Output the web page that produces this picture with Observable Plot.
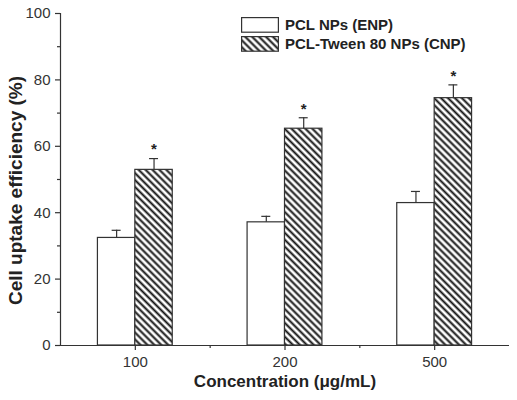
<!DOCTYPE html>
<html>
<head>
<meta charset="utf-8">
<script src="https://cdn.jsdelivr.net/npm/d3@7"></script>
<script src="https://cdn.jsdelivr.net/npm/@observablehq/plot@0.6"></script>
<style>
  html, body { margin: 0; padding: 0; background: #fff; }
  #wrap { position: relative; width: 517px; height: 400px; font-family: "Liberation Sans", Arial, sans-serif; }
  .leg { position: absolute; left: 241px; display: flex; align-items: center; font-weight: bold; font-size: 15px; color: #222; }
  .leg svg { margin-right: 6px; display: block; }
</style>
</head>
<body>
<div id="wrap"></div>
<script>
const concentrations = ["100", "200", "500"];
const seriesNames = ["PCL NPs (ENP)", "PCL-Tween 80 NPs (CNP)"];
const enpValues = [32.4, 37.1, 42.9];
const enpErrors = [2.3, 1.8, 3.5];
const cnpValues = [52.9, 65.3, 74.5];
const cnpErrors = [3.4, 3.3, 4.0];
const yTicks = [0, 20, 40, 60, 80, 100];
const yMinorTicks = [10, 30, 50, 70, 90];

const rows = [];
concentrations.forEach((c, i) => {
  rows.push({conc: c, pos: i + 1, series: seriesNames[0], value: enpValues[i], err: enpErrors[i], side: -1});
  rows.push({conc: c, pos: i + 1, series: seriesNames[1], value: cnpValues[i], err: cnpErrors[i], side: 1});
});
const bw = 0.25;
const x1 = d => d.side < 0 ? d.pos - bw : d.pos;
const x2 = d => d.side < 0 ? d.pos : d.pos + bw;
const xc = d => d.pos + d.side * bw / 2;
const fillOf = d => d.side < 0 ? "white" : "url(#hatch)";
const cnpRows = rows.filter(d => d.side > 0);
const xMajor = concentrations.map((c, i) => i + 1);
const xMinor = [1.5, 2.5];

const axisColor = "#333";
const chart = Plot.plot({
  width: 517,
  height: 400,
  marginLeft: 60,
  marginRight: 8,
  marginTop: 13,
  marginBottom: 55,
  style: {fontFamily: "Liberation Sans, Arial, sans-serif", background: "white", color: "#222"},
  x: {type: "linear", domain: [0.5, 3.5], axis: null},
  y: {type: "linear", domain: [0, 100], axis: null},
  marks: [
    Plot.rectY(rows, {x1, x2, y1: 0, y2: "value", fill: fillOf, stroke: axisColor, strokeWidth: 1.2}),
    Plot.ruleX(rows, {x: xc, y1: "value", y2: d => d.value + d.err, stroke: axisColor, strokeWidth: 1.2}),
    Plot.ruleY(rows, {y: d => d.value + d.err, x1: d => xc(d) - 0.03, x2: d => xc(d) + 0.03, stroke: axisColor, strokeWidth: 1.2}),
    Plot.text(cnpRows, {x: xc, y: d => d.value + d.err, text: () => "*", dy: -9, fontSize: 15, fontWeight: "bold", fill: "#222"}),
    Plot.ruleX([0.5], {y1: 0, y2: 100, stroke: axisColor, strokeWidth: 1.2}),
    Plot.axisY(yTicks, {tickSize: 5, tickPadding: 5, fontSize: 15, stroke: axisColor, strokeWidth: 1.2, fill: "#333", label: null, anchor: "left"}),
    Plot.axisY(yMinorTicks, {tickSize: 3, text: null, stroke: axisColor, strokeWidth: 1.2, label: null, anchor: "left"}),
    Plot.ruleY([0], {x1: 0.5, x2: 3.5, stroke: axisColor, strokeWidth: 1.2}),
    Plot.axisX(xMajor, {tickSize: 5, tickPadding: 6, fontSize: 15, tickFormat: v => concentrations[v - 1], stroke: axisColor, strokeWidth: 1.2, fill: "#333", label: null, anchor: "bottom"}),
    Plot.axisX(xMinor, {tickSize: 3, text: null, stroke: axisColor, strokeWidth: 1.2, label: null, anchor: "bottom"}),
    Plot.text(["Concentration (μg/mL)"], {frameAnchor: "bottom", dy: 36, fontSize: 17, fontWeight: "bold", fill: "#222", lineAnchor: "middle"}),
    Plot.text(["Cell uptake efficiency (%)"], {frameAnchor: "left", dx: -45, dy: 11, rotate: -90, textAnchor: "middle", lineAnchor: "middle", fontSize: 19, fontWeight: "bold", fill: "#222"})
  ]
});

const ns = "http://www.w3.org/2000/svg";
const defs = document.createElementNS(ns, "defs");
defs.innerHTML = `<pattern id="hatch" patternUnits="userSpaceOnUse" width="4.9" height="10" patternTransform="rotate(-45)">
  <rect width="4.9" height="10" fill="white"/>
  <line x1="2.45" y1="0" x2="2.45" y2="10" stroke="#111" stroke-width="2"/>
</pattern>`;
chart.insertBefore(defs, chart.firstChild);

const wrap = document.getElementById("wrap");
wrap.appendChild(chart);

const legTops = [17, 36];
seriesNames.forEach((name, i) => {
  const div = document.createElement("div");
  div.className = "leg";
  div.style.top = (legTops[i] - 1) + "px";
  div.style.height = "17px";
  const fill = i === 0 ? "white" : "url(#hatchL)";
  div.innerHTML = `<svg width="38" height="16"><defs><pattern id="hatchL" patternUnits="userSpaceOnUse" width="4.9" height="10" patternTransform="rotate(-45)"><rect width="4.9" height="10" fill="white"/><line x1="2.45" y1="0" x2="2.45" y2="10" stroke="#111" stroke-width="2"/></pattern></defs><rect x="0.6" y="0.6" width="36.8" height="14.6" fill="${fill}" stroke="${axisColor}" stroke-width="1.2"/></svg><span>${name}</span>`;
  wrap.appendChild(div);
});
</script>
</body>
</html>
